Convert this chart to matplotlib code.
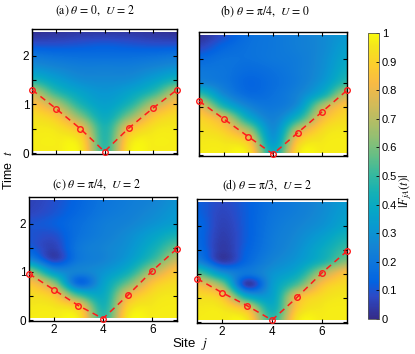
import matplotlib
matplotlib.use("Agg")
import matplotlib.pyplot as plt
import numpy as np
from matplotlib.colors import LinearSegmentedColormap
from matplotlib.patches import Rectangle

# sites and time samples
sites = [1, 2, 3, 4, 5, 6, 7]
times = [0.05, 0.29, 0.53, 0.78, 1.02, 1.26, 1.51, 1.75, 1.99, 2.24, 2.48]

# |F_jA(t)|, rows = times, columns = sites
F_a = [[0.97, 0.97, 0.96, 0.50, 0.96, 0.97, 0.97],
       [0.97, 0.97, 0.92, 0.48, 0.92, 0.97, 0.97],
       [0.96, 0.94, 0.80, 0.46, 0.80, 0.94, 0.96],
       [0.93, 0.85, 0.60, 0.40, 0.60, 0.85, 0.93],
       [0.85, 0.68, 0.45, 0.35, 0.45, 0.68, 0.85],
       [0.70, 0.48, 0.36, 0.31, 0.36, 0.48, 0.70],
       [0.45, 0.35, 0.28, 0.27, 0.28, 0.35, 0.45],
       [0.30, 0.26, 0.23, 0.23, 0.23, 0.26, 0.30],
       [0.20, 0.18, 0.17, 0.17, 0.17, 0.18, 0.20],
       [0.09, 0.09, 0.10, 0.11, 0.10, 0.09, 0.09],
       [0.02, 0.03, 0.04, 0.04, 0.04, 0.03, 0.02]]

F_b = [[0.97, 0.97, 0.95, 0.42, 0.95, 0.97, 0.97],
       [0.96, 0.95, 0.85, 0.33, 0.87, 0.96, 0.97],
       [0.94, 0.88, 0.65, 0.28, 0.70, 0.92, 0.96],
       [0.90, 0.75, 0.40, 0.24, 0.45, 0.82, 0.93],
       [0.78, 0.45, 0.25, 0.20, 0.30, 0.68, 0.88],
       [0.50, 0.27, 0.16, 0.18, 0.25, 0.42, 0.72],
       [0.25, 0.20, 0.14, 0.17, 0.22, 0.32, 0.50],
       [0.20, 0.19, 0.16, 0.18, 0.22, 0.29, 0.42],
       [0.15, 0.18, 0.18, 0.20, 0.22, 0.28, 0.38],
       [0.07, 0.14, 0.18, 0.20, 0.23, 0.27, 0.35],
       [0.02, 0.09, 0.17, 0.20, 0.23, 0.27, 0.32]]

F_c = [[0.97, 0.97, 0.96, 0.50, 0.96, 0.97, 0.97],
       [0.96, 0.95, 0.85, 0.45, 0.90, 0.96, 0.97],
       [0.93, 0.85, 0.50, 0.40, 0.78, 0.93, 0.96],
       [0.85, 0.62, 0.15, 0.35, 0.58, 0.85, 0.93],
       [0.62, 0.30, 0.25, 0.30, 0.42, 0.68, 0.87],
       [0.25, 0.06, 0.20, 0.25, 0.33, 0.50, 0.72],
       [0.12, 0.06, 0.20, 0.25, 0.30, 0.42, 0.58],
       [0.10, 0.09, 0.18, 0.23, 0.28, 0.36, 0.45],
       [0.10, 0.12, 0.17, 0.22, 0.25, 0.30, 0.35],
       [0.07, 0.10, 0.15, 0.20, 0.23, 0.27, 0.32],
       [0.06, 0.09, 0.14, 0.19, 0.22, 0.25, 0.30]]

F_d = [[0.97, 0.97, 0.95, 0.50, 0.95, 0.97, 0.97],
       [0.96, 0.95, 0.80, 0.42, 0.88, 0.96, 0.97],
       [0.93, 0.85, 0.40, 0.36, 0.80, 0.93, 0.96],
       [0.82, 0.62, 0.05, 0.33, 0.55, 0.85, 0.93],
       [0.55, 0.30, 0.20, 0.30, 0.40, 0.68, 0.86],
       [0.25, 0.05, 0.15, 0.25, 0.32, 0.45, 0.62],
       [0.17, 0.04, 0.13, 0.22, 0.29, 0.40, 0.52],
       [0.15, 0.05, 0.12, 0.21, 0.27, 0.35, 0.45],
       [0.15, 0.06, 0.12, 0.20, 0.25, 0.30, 0.38],
       [0.13, 0.07, 0.12, 0.19, 0.23, 0.28, 0.35],
       [0.12, 0.08, 0.12, 0.18, 0.22, 0.27, 0.33]]

# light-cone front (red dashed lines)
front_a = [1.30, 0.91, 0.50, 0.03, 0.51, 0.92, 1.30]
front_b = [1.12, 0.75, 0.38, 0.02, 0.46, 0.90, 1.34]
front_c = [0.96, 0.63, 0.30, 0.03, 0.51, 1.02, 1.48]
front_d = [0.90, 0.61, 0.34, 0.04, 0.51, 1.02, 1.47]

titles = ["(a) $\\theta$ = 0,  $U$ = 2", "(b) $\\theta$ = \u03c0/4,  $U$ = 0",
          "(c) $\\theta$ = \u03c0/4,  $U$ = 2", "(d) $\\theta$ = \u03c0/3,  $U$ = 2"]

# parula-like colormap
parula_pts = [(0.2081, 0.1663, 0.5292), (0.1707, 0.2919, 0.7792), (0.0117, 0.3875, 0.8820),
              (0.0498, 0.4586, 0.8641), (0.0793, 0.5200, 0.8312), (0.0343, 0.5966, 0.8199),
              (0.0228, 0.6535, 0.7768), (0.0843, 0.6928, 0.7062), (0.2178, 0.7250, 0.6193),
              (0.3953, 0.7459, 0.5244), (0.5709, 0.7485, 0.4494), (0.7184, 0.7411, 0.3905),
              (0.8507, 0.7299, 0.3360), (0.9739, 0.7314, 0.2666), (0.9880, 0.8066, 0.1794),
              (0.9589, 0.8949, 0.1132), (0.9763, 0.9831, 0.0538)]
parula_idx = [0, 5, 8, 12, 16, 20, 24, 28, 32, 36, 40, 44, 48, 52, 56, 60, 63]
parula = LinearSegmentedColormap.from_list(
    "parula", [(i / 63, c) for i, c in zip(parula_idx, parula_pts)], N=256)

plt.rcParams['mathtext.fontset'] = 'stix'
plt.rcParams['font.family'] = ['Liberation Sans', 'DejaVu Sans']

fig = plt.figure(figsize=(4.15, 3.54), dpi=100)

W, H = 415.0, 354.0
boxes = [(32, 29, 177, 154), (199, 32, 347, 156), (29, 197, 177, 321), (197, 199, 347, 323)]
title_pos = [(95, 11), (265, 11), (97, 185), (267, 185)]
fields = [F_a, F_b, F_c, F_d]
fronts = [front_a, front_b, front_c, front_d]

dt = times[1] - times[0]
for k in range(4):
    x0, y0, x1, y1 = boxes[k]
    ax = fig.add_axes([x0 / W, 1 - y1 / H, (x1 - x0) / W, (y1 - y0) / H])
    im = ax.imshow(np.array(fields[k]), origin='lower', cmap=parula, vmin=0, vmax=1,
                   extent=[0.5, 7.5, times[0] - dt / 2, times[-1] + dt / 2],
                   aspect='auto', interpolation='catrom', interpolation_stage='data')
    im.set_clip_path(Rectangle((1, times[0]), 6, times[-1] - times[0],
                               transform=ax.transData))
    ax.plot(sites, fronts[k], '--', color='#ff1a1a', lw=1.1, dashes=(4, 3),
            marker='o', ms=4, mfc='none', mew=1.0, clip_on=False, zorder=3)
    ax.set_xlim(1, 7)
    ax.set_ylim(-0.02, 2.55)
    ax.set_yticks([0, 0.5, 1, 1.5, 2])
    if k < 2:
        ax.set_xticks(sites)
        ax.set_xticklabels([])
    else:
        ax.set_xticks([2, 4, 6])
    if k % 2 == 0:
        ax.set_yticklabels(['0', '', '1', '', '2'])
    else:
        ax.set_yticklabels([])
    ax.tick_params(direction='in', length=3, width=0.8, top=True, right=True,
                   labelsize=8.5, pad=2)
    for s in ax.spines.values():
        s.set_linewidth(1.0)
    fig.text(title_pos[k][0] / W, 1 - title_pos[k][1] / H, titles[k],
             ha='center', va='center', fontsize=8.5, family='STIXGeneral')

cax = fig.add_axes([368 / W, 1 - 319 / H, 11 / W, (319 - 33) / H])
cb = fig.colorbar(im, cax=cax, ticks=[0, 0.1, 0.2, 0.3, 0.4, 0.5, 0.6, 0.7, 0.8, 0.9, 1])
cb.ax.set_yticklabels(['0', '0.1', '0.2', '0.3', '0.4', '0.5', '0.6', '0.7', '0.8', '0.9', '1'])
cb.ax.tick_params(direction='in', length=2.5, width=0.6, labelsize=8, pad=2)
cb.outline.set_linewidth(0.6)
cb.outline.set_edgecolor('#555555')

fig.text(406 / W, 1 - 191 / H, "$|F_{jA}(t)|$", rotation=90, ha='center', va='center', fontsize=9)
fig.text(9 / W, 1 - 170 / H, "Time  $t$", rotation=90, ha='center', va='center', fontsize=9)
fig.text(190 / W, 1 - 344 / H, "Site  $j$", ha='center', va='center', fontsize=9.5)

fig.savefig("out.png", dpi=100)
